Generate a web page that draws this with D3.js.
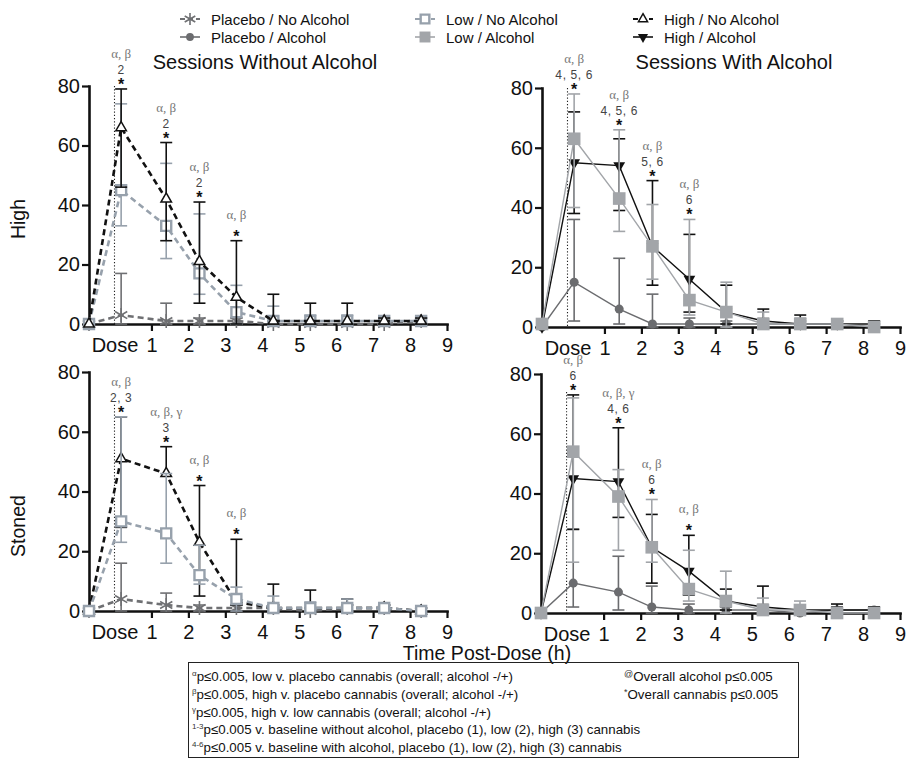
<!DOCTYPE html>
<html>
<head>
<meta charset="utf-8">
<script src="https://cdn.jsdelivr.net/npm/d3@7"></script>
<style>
  body { margin: 0; background: #fff; }
  svg { display: block; font-family: "Liberation Sans", Arial, sans-serif; }
</style>
</head>
<body>
<div id="app"></div>
<script>
// time points (h) : baseline, then post-dose samples
const times = [-0.69, 0.18, 1.4, 2.3, 3.3, 4.3, 5.3, 6.3, 7.3, 8.3];
const xTicks = [0, 1, 2, 3, 4, 5, 6, 7, 8, 9];
const yTicks = [0, 20, 40, 60, 80];

// "High" rating, sessions without alcohol
const highNoAlc_placebo   = [0, 3, 1, 1, 1, 0, 0, 0, 0, 1];
const highNoAlc_placeboLo = [0, 0, 0, 0, 0, 0, 0, 0, 0, 0];
const highNoAlc_placeboHi = [0, 17, 7, 2, 2, 1, 1, 1, 1, 1];
const highNoAlc_low       = [0, 45, 33, 17, 4, 1, 1, 1, 1, 1];
const highNoAlc_lowLo     = [0, 33, 22, 10, 0, 0, 0, 0, 0, 0];
const highNoAlc_lowHi     = [0, 74, 54, 37, 13, 6, 3, 3, 2, 2];
const highNoAlc_high      = [0, 66, 42, 21, 9, 1, 1, 1, 1, 1];
const highNoAlc_highLo    = [0, 46, 28, 7, 0, 0, 0, 0, 0, 0];
const highNoAlc_highHi    = [0, 79, 61, 41, 28, 10, 7, 7, 2, 2];

// "High" rating, sessions with alcohol
const highAlc_placebo   = [0, 15, 6, 1, 1, 1, 1, 1, 1, 0];
const highAlc_placeboLo = [0, 2, 1, 0, 0, 0, 0, 0, 0, 0];
const highAlc_placeboHi = [0, 36, 23, 11, 3, 2, 2, 2, 2, 1];
const highAlc_low       = [1, 63, 43, 27, 9, 5, 1, 1, 1, 0];
const highAlc_lowLo     = [0, 40, 32, 16, 4, 0, 0, 0, 0, 0];
const highAlc_lowHi     = [2, 78, 66, 41, 36, 15, 5, 3, 2, 1];
const highAlc_high      = [0, 55, 54, 27, 16, 5, 2, 1, 1, 1];
const highAlc_highLo    = [0, 38, 39, 14, 5, 1, 0, 0, 0, 0];
const highAlc_highHi    = [0, 72, 63, 49, 31, 14, 6, 4, 2, 2];

// "Stoned" rating, sessions without alcohol
const stonedNoAlc_placebo   = [0, 4, 2, 1, 1, 1, 0, 1, 1, 0];
const stonedNoAlc_placeboLo = [0, 0, 0, 0, 0, 0, 0, 0, 0, 0];
const stonedNoAlc_placeboHi = [0, 16, 6, 2, 2, 2, 1, 2, 2, 1];
const stonedNoAlc_low       = [0, 30, 26, 12, 4, 1, 1, 1, 1, 0];
const stonedNoAlc_lowLo     = [0, 23, 16, 9, 0, 0, 0, 0, 0, 0];
const stonedNoAlc_lowHi     = [0, 65, 46, 22, 8, 5, 3, 4, 2, 1];
const stonedNoAlc_high      = [0, 51, 46, 23, 3, 1, 1, 1, 1, 0];
const stonedNoAlc_highLo    = [0, 28, 46, 5, 0, 0, 0, 0, 0, 0];
const stonedNoAlc_highHi    = [0, 65, 55, 42, 24, 9, 7, 4, 2, 1];

// "Stoned" rating, sessions with alcohol
const stonedAlc_placebo   = [0, 10, 7, 2, 1, 1, 1, 0, 1, 1];
const stonedAlc_placeboLo = [0, 2, 1, 0, 0, 0, 0, 0, 0, 0];
const stonedAlc_placeboHi = [0, 28, 19, 9, 3, 2, 2, 1, 2, 2];
const stonedAlc_low       = [0, 54, 39, 22, 8, 4, 1, 1, 0, 0];
const stonedAlc_lowLo     = [0, 17, 21, 17, 4, 0, 0, 0, 0, 0];
const stonedAlc_lowHi     = [0, 72, 48, 38, 21, 14, 5, 4, 1, 1];
const stonedAlc_high      = [0, 45, 44, 22, 14, 4, 2, 1, 1, 1];
const stonedAlc_highLo    = [0, 28, 32, 10, 6, 1, 0, 0, 0, 0];
const stonedAlc_highHi    = [0, 73, 62, 33, 26, 8, 9, 2, 3, 2];

// significance marks above the first four post-dose points
const annIdx = [1, 2, 3, 4];
const highNoAlc_greek   = ["α, β", "α, β", "α, β", "α, β"];
const highNoAlc_num     = ["2", "2", "2", ""];
const highAlc_greek     = ["α, β", "α, β", "α, β", "α, β"];
const highAlc_num       = ["4, 5, 6", "4, 5, 6", "5, 6", "6"];
const stonedNoAlc_greek = ["α, β", "α, β, γ", "α, β", "α, β"];
const stonedNoAlc_num   = ["2, 3", "3", "", ""];
const stonedAlc_greek   = ["α, β", "α, β, γ", "α, β", "α, β"];
const stonedAlc_num     = ["6", "4, 6", "6", ""];

const legendKeys = ["placeboNo", "placeboAlc", "lowNo", "lowAlc", "highNo", "highAlc"];
const legendLabels = ["Placebo / No Alcohol", "Placebo / Alcohol", "Low / No Alcohol",
                      "Low / Alcohol", "High / No Alcohol", "High / Alcohol"];

const footLines = [
  ["α", "p≤0.005, low v. placebo cannabis  (overall; alcohol -/+)"],
  ["β", "p≤0.005, high v. placebo cannabis (overall; alcohol -/+)"],
  ["γ", "p≤0.005, high v. low cannabis  (overall; alcohol -/+)"],
  ["1-3", "p≤0.005 v. baseline without alcohol, placebo (1), low (2), high (3) cannabis"],
  ["4-6", "p≤0.005 v. baseline with alcohol, placebo (1), low (2), high (3) cannabis"]
];
const footRight = [["@", "Overall alcohol p≤0.005"], ["*", "Overall cannabis p≤0.005"]];

const styles = {
  placeboNo:  {color: "#6f7073", dash: "6,4", width: 2.6, sym: d3.symbolAsterisk, size: 140, fill: "none", sw: 1.6},
  lowNo:      {color: "#97a1ac", dash: "6,4", width: 2.6, sym: d3.symbolSquare, size: 100, fill: "#fff", sw: 2.4},
  highNo:     {color: "#111", dash: "6,4", width: 2.6, sym: d3.symbolTriangle, size: 48, fill: "#fff", sw: 1.5},
  placeboAlc: {color: "#6b6c6f", dash: null, width: 1.4, sym: d3.symbolCircle, size: 64, fill: "#6b6c6f", sw: 0},
  lowAlc:     {color: "#a2a5a9", dash: null, width: 1.4, sym: d3.symbolSquare, size: 160, fill: "#a2a5a9", sw: 0},
  highAlc:    {color: "#111", dash: null, width: 1.4, sym: d3.symbolTriangle, size: 60, fill: "#111", sw: 0, flip: true}
};

const panels = [
  {x0: 89, x1: 447, yTop: 86, yBot: 324, dotTop: 80, greek: highNoAlc_greek, num: highNoAlc_num,
   series: [
     {key: "placeboNo", v: highNoAlc_placebo, lo: highNoAlc_placeboLo, hi: highNoAlc_placeboHi},
     {key: "lowNo", v: highNoAlc_low, lo: highNoAlc_lowLo, hi: highNoAlc_lowHi},
     {key: "highNo", v: highNoAlc_high, lo: highNoAlc_highLo, hi: highNoAlc_highHi}]},
  {x0: 542, x1: 900, yTop: 88, yBot: 327, dotTop: 80, greek: highAlc_greek, num: highAlc_num,
   series: [
     {key: "placeboAlc", v: highAlc_placebo, lo: highAlc_placeboLo, hi: highAlc_placeboHi},
     {key: "highAlc", v: highAlc_high, lo: highAlc_highLo, hi: highAlc_highHi},
     {key: "lowAlc", v: highAlc_low, lo: highAlc_lowLo, hi: highAlc_lowHi}]},
  {x0: 89, x1: 447, yTop: 372, yBot: 611, dotTop: 69, greek: stonedNoAlc_greek, num: stonedNoAlc_num,
   series: [
     {key: "placeboNo", v: stonedNoAlc_placebo, lo: stonedNoAlc_placeboLo, hi: stonedNoAlc_placeboHi},
     {key: "highNo", v: stonedNoAlc_high, lo: stonedNoAlc_highLo, hi: stonedNoAlc_highHi},
     {key: "lowNo", v: stonedNoAlc_low, lo: stonedNoAlc_lowLo, hi: stonedNoAlc_lowHi}]},
  {x0: 541, x1: 900, yTop: 374, yBot: 613, dotTop: 74, greek: stonedAlc_greek, num: stonedAlc_num,
   series: [
     {key: "placeboAlc", v: stonedAlc_placebo, lo: stonedAlc_placeboLo, hi: stonedAlc_placeboHi},
     {key: "highAlc", v: stonedAlc_high, lo: stonedAlc_highLo, hi: stonedAlc_highHi},
     {key: "lowAlc", v: stonedAlc_low, lo: stonedAlc_lowLo, hi: stonedAlc_lowHi}]}
];

const svg = d3.select("#app").append("svg")
    .attr("width", 907)
    .attr("height", 760);

const drawMarker = (g, key, cx, cy, k = 1) => {
  const st = styles[key];
  g.append("path")
      .attr("d", d3.symbol(st.sym, st.size * k)())
      .attr("transform", `translate(${cx},${cy})` + (st.flip ? " rotate(180)" : ""))
      .attr("fill", st.fill)
      .attr("stroke", st.sw ? st.color : "none")
      .attr("stroke-width", st.sw);
};

const drawPanel = p => {
  const x = d3.scaleLinear().domain([-0.69, 9]).range([p.x0, p.x1]);
  const y = d3.scaleLinear().domain([0, 80]).range([p.yBot, p.yTop]);
  const g = svg.append("g");

  // axes
  const yAx = g.append("g")
      .attr("transform", `translate(${p.x0},0)`)
      .call(d3.axisLeft(y).tickValues(yTicks).tickSize(7).tickSizeOuter(0).tickPadding(2));
  const xAx = g.append("g")
      .attr("transform", `translate(0,${p.yBot})`)
      .call(d3.axisBottom(x).tickValues(xTicks).tickSize(7).tickSizeOuter(0).tickPadding(7)
        .tickFormat(d => d === 0 ? "Dose" : d));
  xAx.selectAll(".tick").filter(d => d === 0).select("line").remove();
  [yAx, xAx].forEach(a => {
    a.select(".domain").attr("stroke", "#111").attr("stroke-width", 2.6).attr("stroke-linecap", "square");
    a.selectAll(".tick line").attr("stroke", "#111").attr("stroke-width", 2.2);
    a.selectAll(".tick text").attr("fill", "#111").style("font-size", "20px")
        .style("font-family", "'Liberation Sans', Arial, sans-serif");
  });

  // dotted dose line
  g.append("line")
      .attr("x1", x(0)).attr("x2", x(0))
      .attr("y1", y(p.dotTop)).attr("y2", y(0))
      .attr("stroke", "#222").attr("stroke-width", 1.1)
      .attr("stroke-dasharray", "1.2,2");

  p.series.forEach(s => {
    const st = styles[s.key];
    const eb = g.append("g").attr("stroke", st.color).attr("stroke-width", 1.6);
    times.forEach((t, i) => {
      if (s.hi[i] - s.lo[i] < 0.5) return;
      eb.append("line").attr("x1", x(t)).attr("x2", x(t)).attr("y1", y(s.lo[i])).attr("y2", y(s.hi[i]));
      [s.lo[i], s.hi[i]].forEach(val => {
        if (Math.abs(val - s.v[i]) < 0.5) return;
        eb.append("line").attr("x1", x(t) - 6).attr("x2", x(t) + 6).attr("y1", y(val)).attr("y2", y(val));
      });
    });
    g.append("path")
        .datum(s.v)
        .attr("fill", "none")
        .attr("stroke", st.color)
        .attr("stroke-width", st.width)
        .attr("stroke-dasharray", st.dash)
        .attr("d", d3.line().x((d, i) => x(times[i])).y(d => y(d)));
    s.v.forEach((d, i) => drawMarker(g, s.key, x(times[i]), y(d)));
  });

  // significance annotations
  annIdx.forEach((idx, j) => {
    const top = y(d3.max(p.series, s => s.hi[idx]));
    const cx = x(times[idx]);
    g.append("text").attr("x", cx).attr("y", top + 1)
        .attr("text-anchor", "middle").attr("fill", "#111")
        .style("font-size", "16px").style("font-weight", "bold").text("*");
    if (p.num[j]) {
      g.append("text").attr("x", cx).attr("y", top - 15)
          .attr("text-anchor", "middle").attr("fill", "#444")
          .style("font-size", "12px").style("letter-spacing", "0.6px").text(p.num[j]);
    }
    g.append("text").attr("x", cx).attr("y", top - (p.num[j] ? 31 : 22))
        .attr("text-anchor", "middle").attr("fill", "#777")
        .style("font-family", "'Liberation Serif', 'Times New Roman', serif")
        .style("font-size", "13px").text(p.greek[j]);
  });
};

panels.forEach(drawPanel);

// titles
svg.append("text").attr("x", 265).attr("y", 69).attr("text-anchor", "middle")
    .style("font-size", "20px").attr("fill", "#111").text("Sessions Without Alcohol");
svg.append("text").attr("x", 734).attr("y", 69).attr("text-anchor", "middle")
    .style("font-size", "20px").attr("fill", "#111").text("Sessions With Alcohol");

// row labels
[["High", 219], ["Stoned", 526]].forEach(([t, cy]) => {
  svg.append("text").attr("transform", `translate(25,${cy}) rotate(-90)`)
      .attr("text-anchor", "middle").style("font-size", "19.5px").attr("fill", "#111").text(t);
});

svg.append("text").attr("x", 487).attr("y", 660).attr("text-anchor", "middle")
    .style("font-size", "19.5px").attr("fill", "#111").text("Time Post-Dose (h)");

// legend
const legCols = [180, 415, 633];
const legRows = [19, 37];
legendKeys.forEach((key, i) => {
  const st = styles[key];
  const lx = legCols[Math.floor(i / 2)];
  const ly = legRows[i % 2];
  const lg = svg.append("g");
  lg.append("line").attr("x1", lx).attr("x2", lx + 20).attr("y1", ly).attr("y2", ly)
      .attr("stroke", st.color).attr("stroke-width", st.dash ? 2 : 1.6)
      .attr("stroke-dasharray", st.dash ? "5,3" : null);
  drawMarker(lg, key, lx + 10, ly, 0.75);
  lg.append("text").attr("x", lx + 31).attr("y", ly + 5.5)
      .style("font-size", "15px").attr("fill", "#111").text(legendLabels[i]);
});

// footnote box
svg.append("rect").attr("x", 188.5).attr("y", 662.5).attr("width", 610).attr("height", 95)
    .attr("fill", "none").attr("stroke", "#222").attr("stroke-width", 1);
footLines.forEach(([sup, txt], i) => {
  const t = svg.append("text").attr("x", 192).attr("y", 681 + i * 17.8)
      .style("font-size", "13.3px").attr("fill", "#111");
  t.append("tspan").attr("dy", -5).style("font-size", "8px").attr("fill", "#333").text(sup);
  t.append("tspan").attr("dy", 5).text(txt);
});
footRight.forEach(([sup, txt], i) => {
  const t = svg.append("text").attr("x", 624).attr("y", 681 + i * 17.8)
      .style("font-size", "13.3px").attr("fill", "#111");
  t.append("tspan").attr("dy", -4).style("font-size", "9px").attr("fill", "#333").text(sup);
  t.append("tspan").attr("dy", 4).text(txt);
});
</script>
</body>
</html>
